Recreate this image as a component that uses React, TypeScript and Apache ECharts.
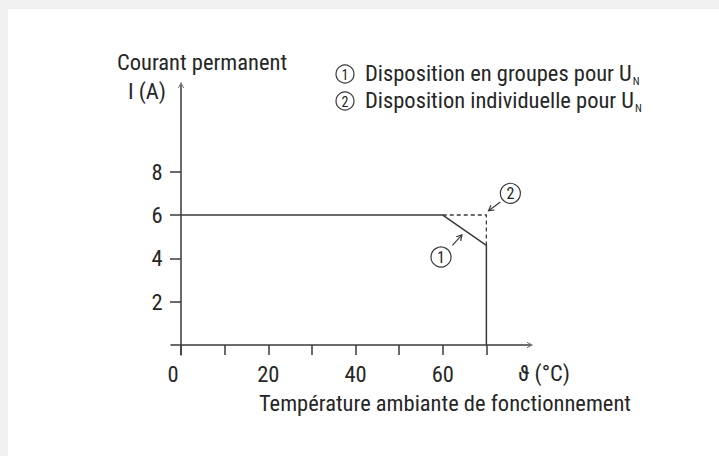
import React, { useEffect, useRef } from 'react';
import * as echarts from 'echarts';

// ---- data ----
const solidCurve: [number, number][] = [[0, 6], [60, 6], [70, 4.6], [70, 0]];
const dashedCurve: [number, number][] = [[60, 6], [70, 6], [70, 4.6]];
const xTickValues = [0, 10, 20, 30, 40, 50, 60, 70];
const xLabelValues = [0, 20, 40, 60];
const yTickValues = [2, 4, 6, 8];
const annotationLabels = ['1', '2'];
const annotationCircles: [number, number][] = [[59.6, 4.06], [75.5, 7.0]];
const annotationFrom: [number, number][] = [[62.2, 4.6], [73.2, 6.6]];
const annotationTo: [number, number][] = [[64.4, 5.08], [70.5, 6.2]];
const legendItems = ['Disposition en groupes pour U', 'Disposition individuelle pour U'];

const FONT = 'Roboto Condensed';
const FS = 22.5;
const TEXT_COLOR = '#262626';
const LINE_COLOR = '#3a3a3a';

export default function App() {
  const ref = useRef<HTMLDivElement>(null);
  useEffect(() => {
    const el = ref.current!;
    const chart = echarts.init(el, null, { renderer: 'svg' });
    const chevron = 'path://M0,10 L5,0 L10,10 L8.8,10 L5,2.2 L1.2,10 Z';
    const axisLineStyle = { color: LINE_COLOR, width: 1.5 };
    const annotationData = annotationCircles.map((c, i) => [
      c[0], c[1], annotationFrom[i][0], annotationFrom[i][1], annotationTo[i][0], annotationTo[i][1],
    ]);

    chart.setOption({
      animation: false,
      backgroundColor: '#ffffff',
      textStyle: { fontFamily: FONT },
      grid: { left: 171, right: 189, top: 85, bottom: 101, containLabel: false },
      xAxis: {
        type: 'value',
        min: -2.3,
        max: 80,
        splitLine: { show: false },
        axisLine: {
          onZero: true,
          symbol: ['none', chevron],
          symbolSize: [9, 6],
          lineStyle: axisLineStyle,
        },
        axisTick: { show: true, customValues: xTickValues, length: 10, lineStyle: axisLineStyle },
        axisLabel: {
          customValues: xLabelValues,
          margin: 7,
          fontSize: FS,
          color: TEXT_COLOR,
          fontFamily: FONT,
          formatter: (v: number) => (v === 0 ? '{z|0}' : String(v)),
          rich: { z: { padding: [0, 16, 0, 0], fontSize: FS, color: TEXT_COLOR, fontFamily: FONT } },
        },
      },
      yAxis: {
        type: 'value',
        min: -0.46,
        max: 12,
        splitLine: { show: false },
        axisLine: {
          onZero: true,
          symbol: ['none', chevron],
          symbolSize: [9, 6],
          lineStyle: axisLineStyle,
        },
        axisTick: { show: true, customValues: yTickValues, length: 11, lineStyle: axisLineStyle },
        axisLabel: { customValues: yTickValues, margin: 8.5, fontSize: FS, color: TEXT_COLOR, fontFamily: FONT },
      },
      graphic: [
        { type: 'rect', shape: { x: 0, y: 0, width: 719, height: 9 }, style: { fill: '#f0f0f0' }, silent: true },
        { type: 'rect', shape: { x: 0, y: 0, width: 8, height: 456 }, style: { fill: '#f0f0f0' }, silent: true },
        {
          type: 'text', x: 117, y: 62,
          style: { text: 'Courant permanent', fontSize: FS, fontFamily: FONT, fill: TEXT_COLOR, verticalAlign: 'middle' },
        },
        {
          type: 'text', x: 128, y: 91,
          style: { text: 'I (A)', fontSize: FS, fontFamily: FONT, fill: TEXT_COLOR, verticalAlign: 'middle' },
        },
        ...legendItems.flatMap((t, i) => {
          const cy = 74 + i * 27;
          return [
            { type: 'circle', shape: { cx: 345, cy, r: 9 }, style: { fill: '#fff', stroke: LINE_COLOR, lineWidth: 1.2 } },
            {
              type: 'text', x: 345, y: cy + 0.5,
              style: { text: String(i + 1), fontSize: 14, fontFamily: FONT, fill: TEXT_COLOR, align: 'center', verticalAlign: 'middle' },
            },
            {
              type: 'text', x: 365, y: cy - 13,
              style: {
                text: '{m|' + t + '}{s|N}',
                fill: TEXT_COLOR,
                verticalAlign: 'top',
                rich: {
                  m: { fontSize: FS, fontFamily: FONT, lineHeight: 26, verticalAlign: 'top', fill: TEXT_COLOR },
                  s: { fontSize: 11, fontFamily: FONT, lineHeight: 11, padding: [21, 0, 0, 1], verticalAlign: 'bottom', fill: TEXT_COLOR },
                },
              },
            },
          ];
        }),
        {
          type: 'text', x: 518, y: 373,
          style: { text: 'ϑ (°C)', fontSize: FS, fontFamily: FONT, fill: TEXT_COLOR, verticalAlign: 'middle' },
        },
        {
          type: 'text', x: 259, y: 403,
          style: { text: 'Température ambiante de fonctionnement', fontSize: FS, fontFamily: FONT, fill: TEXT_COLOR, verticalAlign: 'middle' },
        },
      ],
      series: [
        {
          type: 'line',
          data: solidCurve,
          symbol: 'none',
          lineStyle: { color: LINE_COLOR, width: 1.5 },
          z: 3,
        },
        {
          type: 'line',
          data: dashedCurve,
          symbol: 'none',
          lineStyle: { color: LINE_COLOR, width: 1.3, type: [4, 3] },
          z: 2,
        },
        {
          type: 'custom',
          data: annotationData,
          encode: { x: [0, 2, 4], y: [1, 3, 5] },
          z: 5,
          renderItem: (params: any, api: any) => {
            const c = api.coord([api.value(0), api.value(1)]);
            const f = api.coord([api.value(2), api.value(3)]);
            const t = api.coord([api.value(4), api.value(5)]);
            const dx = t[0] - f[0];
            const dy = t[1] - f[1];
            const len = Math.hypot(dx, dy) || 1;
            const ux = dx / len;
            const uy = dy / len;
            const h = 6;
            const a = Math.PI / 6;
            const rot = (x: number, y: number, ang: number) => [
              x * Math.cos(ang) - y * Math.sin(ang),
              x * Math.sin(ang) + y * Math.cos(ang),
            ];
            const r1 = rot(ux, uy, a);
            const r2 = rot(ux, uy, -a);
            return {
              type: 'group',
              children: [
                { type: 'circle', shape: { cx: c[0], cy: c[1], r: 10 }, style: { fill: '#fff', stroke: LINE_COLOR, lineWidth: 1.2 } },
                {
                  type: 'text', x: c[0], y: c[1] + 0.5,
                  style: { text: annotationLabels[params.dataIndex], fontSize: 16, fontFamily: FONT, fill: TEXT_COLOR, align: 'center', verticalAlign: 'middle' },
                },
                { type: 'line', shape: { x1: f[0], y1: f[1], x2: t[0], y2: t[1] }, style: { stroke: LINE_COLOR, lineWidth: 1.2 } },
                {
                  type: 'polyline',
                  shape: { points: [[t[0] - r1[0] * h, t[1] - r1[1] * h], [t[0], t[1]], [t[0] - r2[0] * h, t[1] - r2[1] * h]] },
                  style: { stroke: LINE_COLOR, lineWidth: 1.2, fill: 'none' },
                },
              ],
            };
          },
        },
      ],
    });
    return () => chart.dispose();
  }, []);
  return <div ref={ref} style={{ position: 'fixed', left: 0, top: 0, width: 719, height: 456 }} />;
}
